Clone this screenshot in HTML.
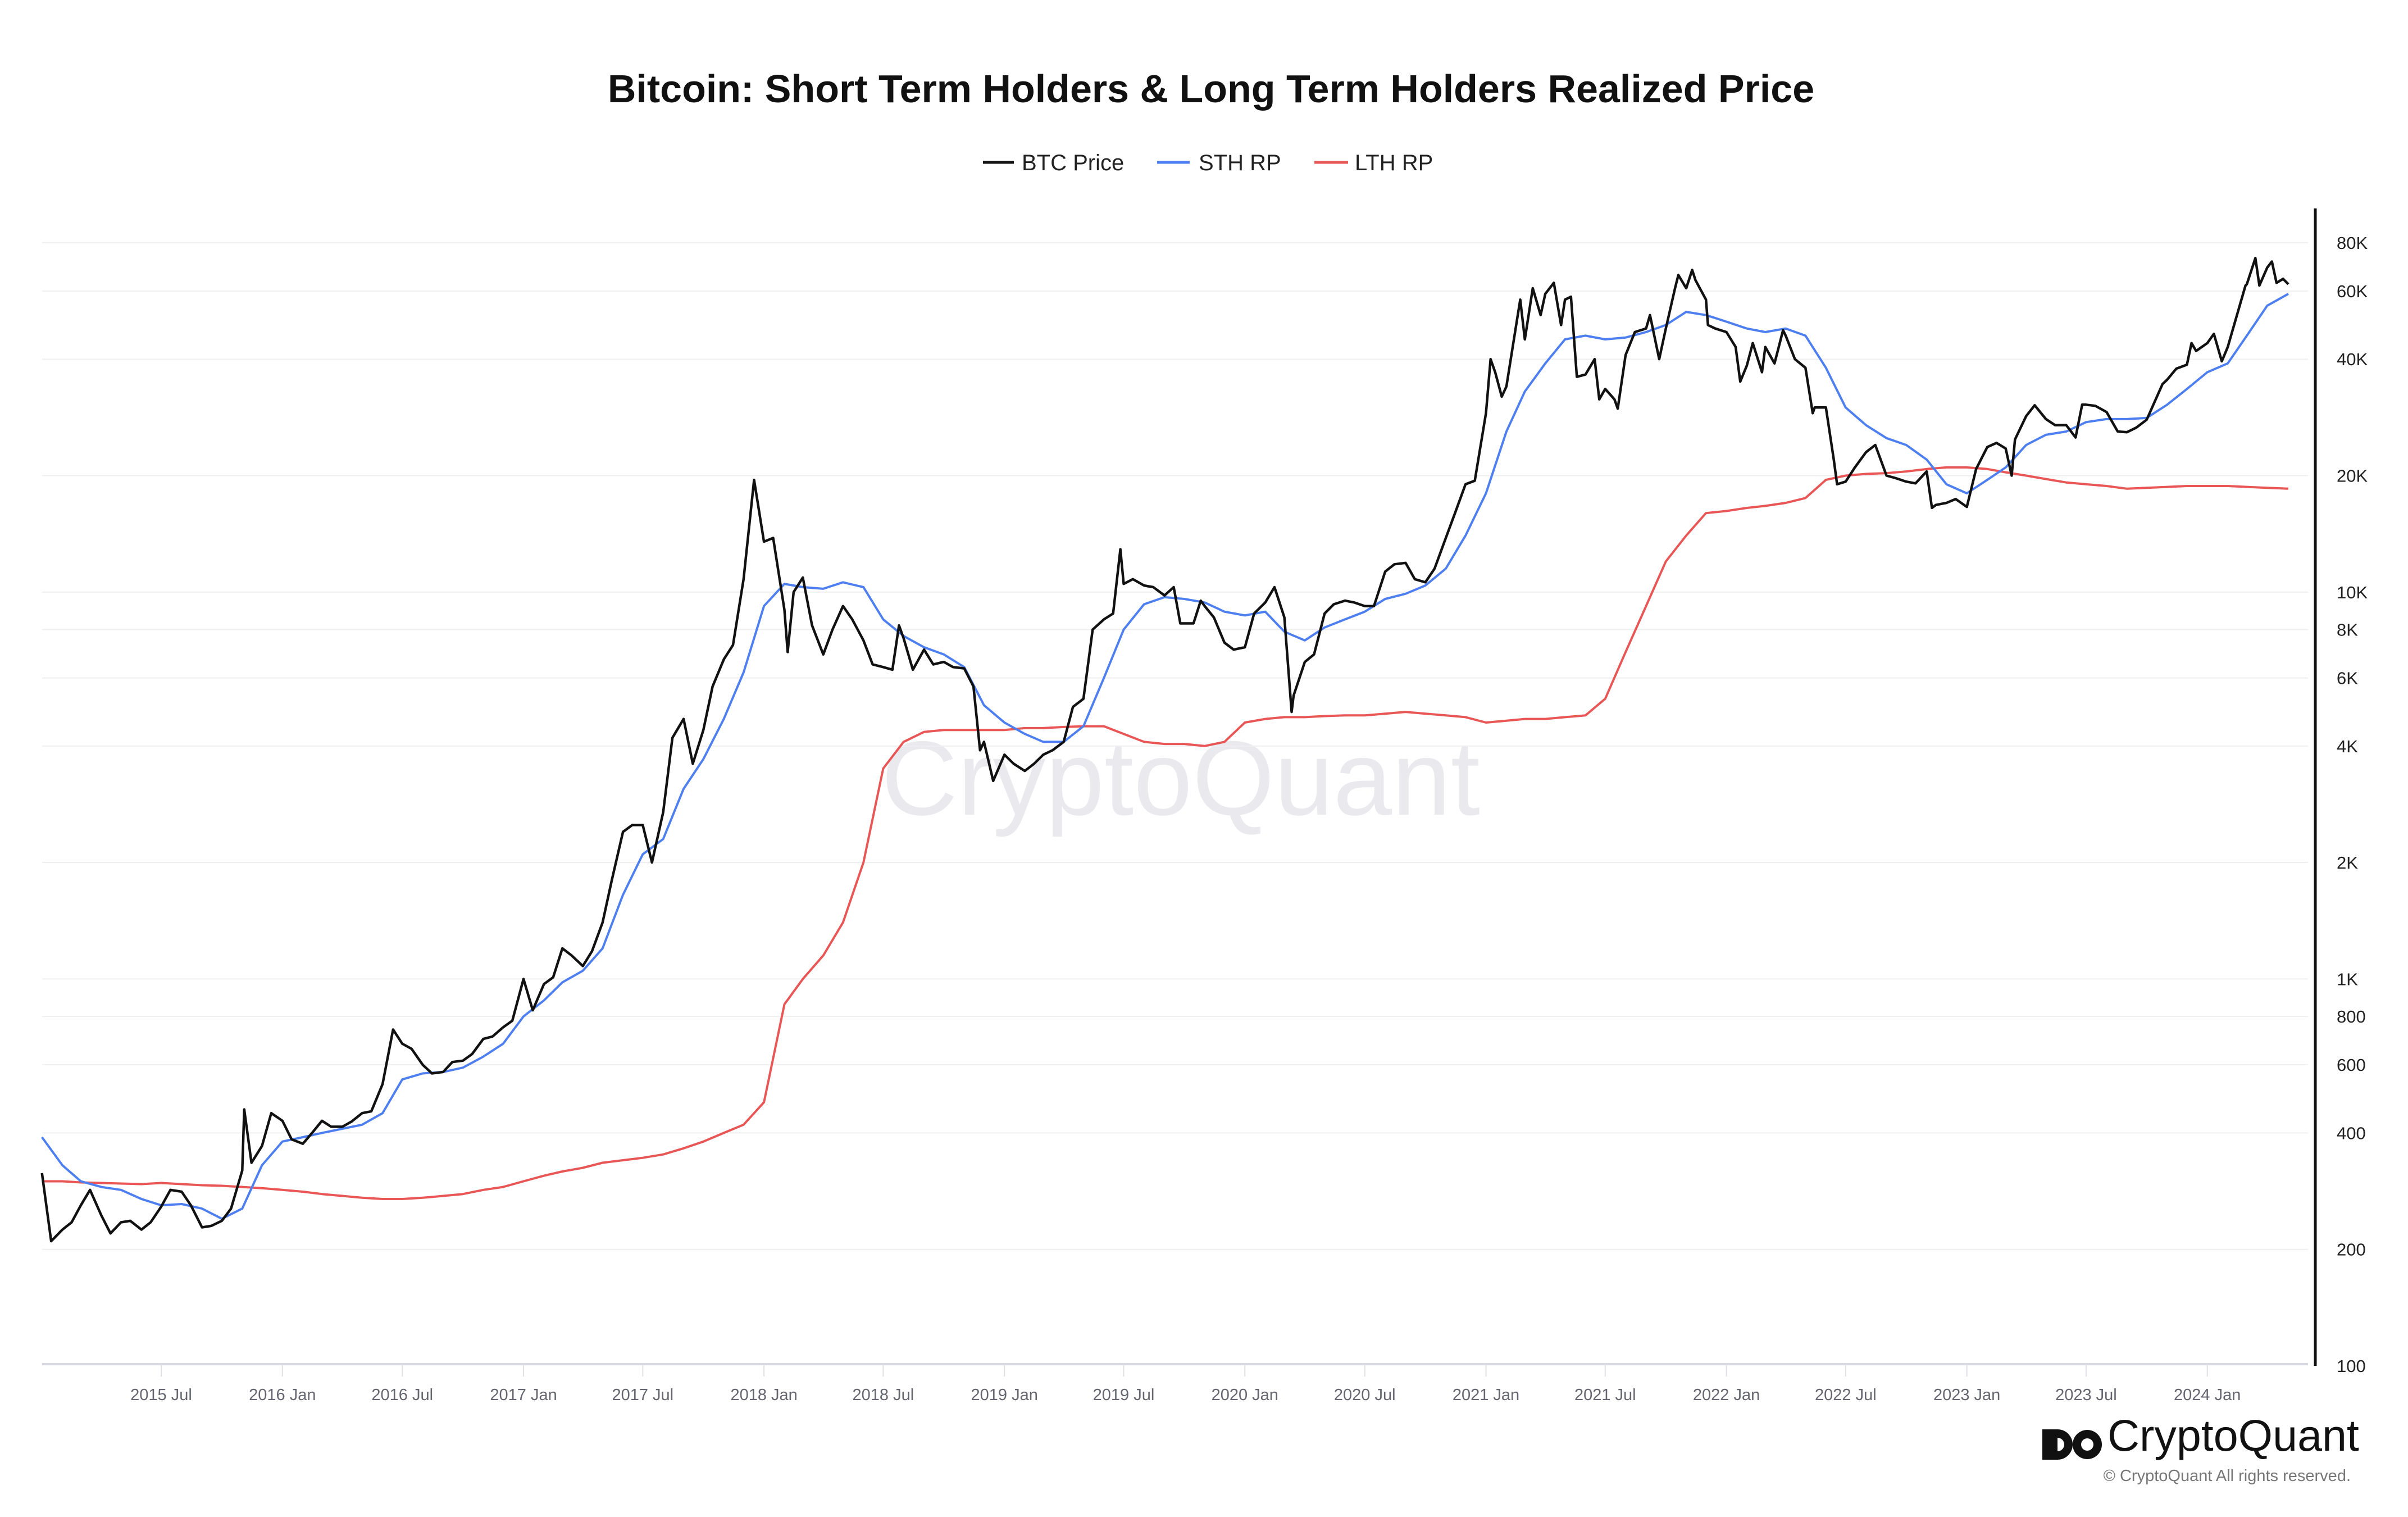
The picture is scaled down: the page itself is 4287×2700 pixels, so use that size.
<!DOCTYPE html>
<html><head><meta charset="utf-8"><style>
html,body{margin:0;padding:0;background:#fff;}
body{width:4287px;height:2700px;position:relative;overflow:hidden;font-family:"Liberation Sans",sans-serif;}
svg{position:absolute;left:0;top:0;}
</style></head><body>
<svg id="chart" width="4287" height="2700" viewBox="0 0 4287 2700" xmlns="http://www.w3.org/2000/svg">
<text x="2156" y="182" text-anchor="middle" font-size="70" font-weight="bold" fill="#111" font-family="Liberation Sans, sans-serif">Bitcoin: Short Term Holders &amp; Long Term Holders Realized Price</text>
<g font-size="40" fill="#222" font-family="Liberation Sans, sans-serif">
<g><line x1="1750" y1="289" x2="1805" y2="289" stroke="#111" stroke-width="5"/><text x="1819" y="303">BTC Price</text></g>
<g><line x1="2060" y1="289" x2="2118" y2="289" stroke="#4d7ff0" stroke-width="5"/><text x="2134" y="303">STH RP</text></g>
<g><line x1="2340" y1="289" x2="2400" y2="289" stroke="#e85656" stroke-width="5"/><text x="2412" y="303">LTH RP</text></g>
</g>
<text x="2102" y="1450" text-anchor="middle" font-size="188" fill="#dcdae2" fill-opacity="0.6" font-family="Liberation Sans, sans-serif">CryptoQuant</text>
<g id="grid"></g>
<g id="xaxis"></g>
<g id="yaxis"></g>
<g id="series"></g>
<g>
<circle cx="3663" cy="2571" r="27" fill="#111"/><circle cx="3663" cy="2571" r="12" fill="#fff"/>
<rect x="3636" y="2544" width="27" height="54" fill="#111"/>
<circle cx="3716" cy="2571" r="26" fill="#111"/><circle cx="3716" cy="2571" r="11" fill="#fff"/>
<text x="3752" y="2582" font-size="79" fill="#111" font-family="Liberation Sans, sans-serif">CryptoQuant</text>
</g>
<text x="4185" y="2636" text-anchor="end" font-size="29" fill="#777" font-family="Liberation Sans, sans-serif">© CryptoQuant All rights reserved.</text>
</svg>
<script>
const yTicks=[100,200,400,600,800,1000,2000,4000,6000,8000,10000,20000,40000,60000,80000];
const yTickLabels=["100","200","400","600","800","1K","2K","4K","6K","8K","10K","20K","40K","60K","80K"];
const xTickDates=["2015-07-01","2016-01-01","2016-07-01","2017-01-01","2017-07-01","2018-01-01","2018-07-01","2019-01-01","2019-07-01","2020-01-01","2020-07-01","2021-01-01","2021-07-01","2022-01-01","2022-07-01","2023-01-01","2023-07-01","2024-01-01"];
const xTickLabels=["2015 Jul","2016 Jan","2016 Jul","2017 Jan","2017 Jul","2018 Jan","2018 Jul","2019 Jan","2019 Jul","2020 Jan","2020 Jul","2021 Jan","2021 Jul","2022 Jan","2022 Jul","2023 Jan","2023 Jul","2024 Jan"];
const btcDates=["2015-01-01","2015-01-15","2015-02-01","2015-02-15","2015-03-01","2015-03-15","2015-04-01","2015-04-15","2015-05-01","2015-05-15","2015-06-01","2015-06-15","2015-07-01","2015-07-15","2015-08-01","2015-08-15","2015-09-01","2015-09-15","2015-10-01","2015-10-15","2015-11-01","2015-11-04","2015-11-15","2015-12-01","2015-12-15",
"2016-01-01","2016-01-15","2016-02-01","2016-02-15","2016-03-01","2016-03-15","2016-04-01","2016-04-15","2016-05-01","2016-05-15","2016-06-01","2016-06-17","2016-07-01","2016-07-15","2016-08-01","2016-08-15","2016-09-01","2016-09-15","2016-10-01","2016-10-15","2016-11-01","2016-11-15","2016-12-01","2016-12-15",
"2017-01-01","2017-01-15","2017-02-01","2017-02-15","2017-03-01","2017-03-15","2017-04-01","2017-04-15","2017-05-01","2017-05-15","2017-06-01","2017-06-15","2017-07-01","2017-07-15","2017-08-01","2017-08-15","2017-09-01","2017-09-15","2017-10-01","2017-10-15","2017-11-01","2017-11-15","2017-12-01","2017-12-17",
"2018-01-01","2018-01-15","2018-02-01","2018-02-06","2018-02-15","2018-03-01","2018-03-15","2018-04-01","2018-04-15","2018-05-01","2018-05-15","2018-06-01","2018-06-15","2018-07-01","2018-07-15","2018-07-25","2018-08-01","2018-08-15","2018-09-01","2018-09-15","2018-10-01","2018-10-15","2018-11-01","2018-11-15","2018-11-25","2018-12-01","2018-12-15",
"2019-01-01","2019-01-15","2019-02-01","2019-02-15","2019-03-01","2019-03-15","2019-04-01","2019-04-15","2019-05-01","2019-05-15","2019-06-01","2019-06-15","2019-06-26","2019-07-01","2019-07-15","2019-08-01","2019-08-15","2019-09-01","2019-09-15","2019-09-25","2019-10-01","2019-10-15","2019-10-26","2019-11-01","2019-11-15","2019-12-01","2019-12-15",
"2020-01-01","2020-01-15","2020-02-01","2020-02-15","2020-03-01","2020-03-12","2020-03-15","2020-04-01","2020-04-15","2020-05-01","2020-05-15","2020-06-01","2020-06-15","2020-07-01","2020-07-15","2020-08-01","2020-08-15","2020-09-01","2020-09-15","2020-10-01","2020-10-15","2020-11-01","2020-11-15","2020-12-01","2020-12-15",
"2021-01-01","2021-01-08","2021-01-15","2021-01-25","2021-02-01","2021-02-15","2021-02-22","2021-03-01","2021-03-13","2021-03-25","2021-04-01","2021-04-14","2021-04-25","2021-05-01","2021-05-10","2021-05-19","2021-06-01","2021-06-15","2021-06-22","2021-07-01","2021-07-15","2021-07-20","2021-08-01","2021-08-15","2021-09-01","2021-09-07","2021-09-21","2021-10-01","2021-10-15","2021-10-20","2021-11-01","2021-11-10","2021-11-15","2021-12-01","2021-12-04","2021-12-15",
"2022-01-01","2022-01-15","2022-01-22","2022-02-01","2022-02-10","2022-02-24","2022-03-01","2022-03-15","2022-03-28","2022-04-01","2022-04-15","2022-05-01","2022-05-12","2022-05-15","2022-06-01","2022-06-13","2022-06-18","2022-07-01","2022-07-15","2022-08-01","2022-08-15","2022-09-01","2022-09-15","2022-10-01","2022-10-15","2022-11-01","2022-11-09","2022-11-15","2022-12-01","2022-12-15",
"2023-01-01","2023-01-15","2023-02-01","2023-02-15","2023-03-01","2023-03-10","2023-03-15","2023-04-01","2023-04-14","2023-05-01","2023-05-15","2023-06-01","2023-06-15","2023-06-25","2023-07-01","2023-07-15","2023-08-01","2023-08-18","2023-09-01","2023-09-15","2023-10-01","2023-10-25","2023-11-01","2023-11-15","2023-12-01","2023-12-08","2023-12-15",
"2024-01-01","2024-01-11","2024-01-23","2024-02-01","2024-02-15","2024-02-28","2024-03-01","2024-03-14","2024-03-20","2024-04-01","2024-04-08","2024-04-15","2024-04-25","2024-05-03"];
const btcPrice=[315,210,225,235,260,285,245,220,235,237,225,235,258,285,282,260,228,230,237,255,320,460,335,370,450,
430,385,375,400,430,415,415,428,450,455,535,740,680,660,600,570,575,610,615,640,700,710,750,780,
1000,830,970,1010,1200,1150,1080,1180,1400,1800,2400,2500,2500,2000,2700,4200,4700,3600,4400,5700,6700,7300,10800,19500,
13500,13800,9000,7000,10000,10900,8200,6900,8000,9200,8500,7500,6500,6400,6300,8200,7600,6300,7100,6500,6600,6400,6350,5700,3900,4100,3250,
3800,3600,3450,3600,3800,3900,4100,5050,5300,8000,8500,8800,12900,10500,10800,10400,10300,9800,10300,8300,8300,8300,9500,9200,8600,7400,7100,
7200,8800,9400,10300,8600,4900,5400,6600,6900,8800,9300,9500,9400,9200,9200,11300,11800,11900,10800,10600,11500,13800,16000,19000,19400,
29000,40000,37000,32000,34000,48000,57000,45000,61000,52000,59000,63000,49000,57000,58000,36000,36500,40000,31500,33500,31500,29800,41000,47000,48000,52000,40000,48000,61000,66000,61000,68000,64000,57000,49000,48000,
47000,43000,35000,38500,44000,37000,43000,39000,47500,46000,40000,38000,29000,30000,30000,22000,19000,19300,21000,23000,24000,20000,19700,19300,19100,20500,16500,16800,17000,17400,
16600,20800,23700,24300,23500,20000,24800,28500,30400,28000,27000,27000,25100,30500,30500,30300,29200,26000,25900,26600,27900,34500,35400,37800,38700,44000,42000,
44000,46500,39500,43000,52000,62000,62500,73000,62000,69000,71500,63000,64500,62500];
const rpDates=["2015-01-01","2015-02-01","2015-03-01","2015-04-01","2015-05-01","2015-06-01","2015-07-01","2015-08-01","2015-09-01","2015-10-01","2015-11-01","2015-12-01",
"2016-01-01","2016-02-01","2016-03-01","2016-04-01","2016-05-01","2016-06-01","2016-07-01","2016-08-01","2016-09-01","2016-10-01","2016-11-01","2016-12-01",
"2017-01-01","2017-02-01","2017-03-01","2017-04-01","2017-05-01","2017-06-01","2017-07-01","2017-08-01","2017-09-01","2017-10-01","2017-11-01","2017-12-01",
"2018-01-01","2018-02-01","2018-03-01","2018-04-01","2018-05-01","2018-06-01","2018-07-01","2018-08-01","2018-09-01","2018-10-01","2018-11-01","2018-12-01",
"2019-01-01","2019-02-01","2019-03-01","2019-04-01","2019-05-01","2019-06-01","2019-07-01","2019-08-01","2019-09-01","2019-10-01","2019-11-01","2019-12-01",
"2020-01-01","2020-02-01","2020-03-01","2020-04-01","2020-05-01","2020-06-01","2020-07-01","2020-08-01","2020-09-01","2020-10-01","2020-11-01","2020-12-01",
"2021-01-01","2021-02-01","2021-03-01","2021-04-01","2021-05-01","2021-06-01","2021-07-01","2021-08-01","2021-09-01","2021-10-01","2021-11-01","2021-12-01",
"2022-01-01","2022-02-01","2022-03-01","2022-04-01","2022-05-01","2022-06-01","2022-07-01","2022-08-01","2022-09-01","2022-10-01","2022-11-01","2022-12-01",
"2023-01-01","2023-02-01","2023-03-01","2023-04-01","2023-05-01","2023-06-01","2023-07-01","2023-08-01","2023-09-01","2023-10-01","2023-11-01","2023-12-01",
"2024-01-01","2024-02-01","2024-03-01","2024-04-01","2024-05-03"];
const sthRP=[390,330,300,290,285,270,260,262,255,240,255,330,
380,390,400,410,420,450,550,570,575,590,630,680,
800,880,980,1050,1200,1650,2100,2300,3100,3700,4700,6200,
9200,10500,10300,10200,10600,10300,8500,7700,7200,6900,6400,5100,
4600,4300,4100,4100,4500,6000,8000,9300,9700,9600,9400,8900,
8700,8900,7900,7500,8100,8500,8900,9600,9900,10400,11500,14000,
18000,26000,33000,39000,45000,46000,45000,45500,47000,49000,53000,52000,
50000,48000,47000,48000,46000,38000,30000,27000,25000,24000,22000,19000,
18000,19500,21000,24000,25500,26000,27500,28000,28000,28200,30500,33500,
37000,39000,46000,55000,59000];
const lthRP=[300,300,298,297,296,295,297,295,293,292,290,288,
285,282,278,275,272,270,270,272,275,278,285,290,
300,310,318,325,335,340,345,352,365,380,400,420,
480,860,1000,1150,1400,2000,3500,4100,4350,4400,4400,4400,
4400,4450,4450,4480,4500,4500,4300,4100,4050,4050,4000,4100,
4600,4700,4750,4750,4780,4800,4800,4850,4900,4850,4800,4750,
4600,4650,4700,4700,4750,4800,5300,7000,9200,12000,14000,16000,
16200,16500,16700,17000,17500,19500,20000,20200,20300,20500,20800,21000,
21000,20800,20400,20000,19600,19200,19000,18800,18500,18600,18700,18800,
18800,18800,18700,18600,18500];

const NS="http://www.w3.org/2000/svg";
const L=75,R=4109,TOP=432,BOT=2431,DEC=688.6;
const T0=Date.UTC(2015,6,1);
function tms(s){const p=s.split('-');return Date.UTC(+p[0],+p[1]-1,+p[2]);}
function xScale(s){return 287+(tms(s)-T0)/86400000*1.1728;}
function yScale(v){return BOT-(Math.log10(v)-2)*DEC;}
function mk(tag,attrs,parent){const e=document.createElementNS(NS,tag);for(const k in attrs)e.setAttribute(k,attrs[k]);parent.appendChild(e);return e;}
const grid=document.getElementById('grid'),ya=document.getElementById('yaxis'),xa=document.getElementById('xaxis'),ser=document.getElementById('series');
yTicks.forEach((v,i)=>{
  const y=yScale(v);
  if(v>100){const g=mk('line',{x1:L,x2:R,y1:y,y2:y,stroke:'#efeff2','stroke-width':2},grid);
  
  }
  const t=mk('text',{x:4160,y:y+11,'font-size':31,fill:'#222','font-family':'Liberation Sans, sans-serif'},ya);
  t.textContent=yTickLabels[i];
  
  
});
const axl=mk('line',{x1:4122,x2:4122,y1:371,y2:BOT,stroke:'#111','stroke-width':5},ya);


const xl=mk('line',{x1:L,x2:R,y1:2428,y2:2428,stroke:'#d8d8e0','stroke-width':4},xa);


xTickDates.forEach((d,i)=>{
  const x=xScale(d);
  const tk=mk('line',{x1:x,x2:x,y1:2430,y2:2450,stroke:'#e0e0e6','stroke-width':2},xa);
  
  
  const t=mk('text',{x:x,y:2492,'text-anchor':'middle','font-size':29,fill:'#666670','font-family':'Liberation Sans, sans-serif'},xa);
  t.textContent=xTickLabels[i];
  
  
});
function path(dates,vals,color,w,name){
  let d='';vals.forEach((v,i)=>{d+=(i?'L':'M')+xScale(dates[i]).toFixed(1)+' '+yScale(v).toFixed(1);});
  const p=mk('path',{d:d,fill:'none',stroke:color,'stroke-width':w,'stroke-linejoin':'round'},ser);
  
  
}
path(rpDates,lthRP,'#e85656',4,'lth-rp-line');
path(rpDates,sthRP,'#4d7ff0',4,'sth-rp-line');
path(btcDates,btcPrice,'#111111',4.5,'btc-price-line');
</script>
</body></html>
